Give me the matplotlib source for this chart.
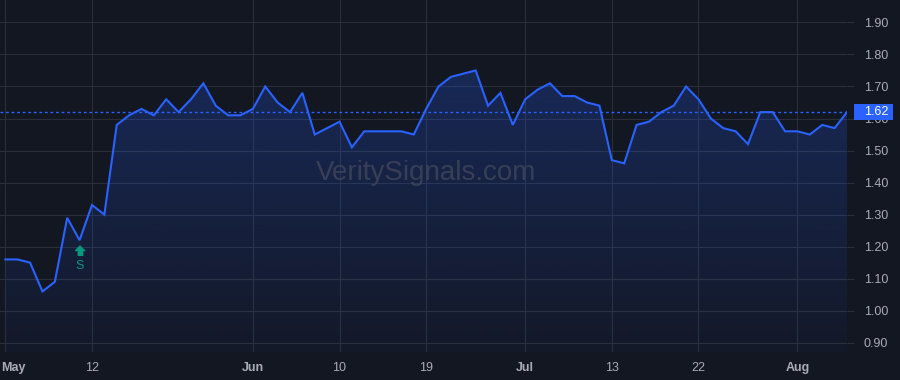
import matplotlib
matplotlib.use("Agg")
import matplotlib.pyplot as plt
import matplotlib.transforms as mtransforms
from matplotlib.patches import Rectangle
import numpy as np

# ---- data ----
values = [1.16, 1.16, 1.15, 1.06, 1.09, 1.29, 1.22, 1.33, 1.30, 1.58,
          1.61, 1.63, 1.61, 1.66, 1.62, 1.66, 1.71, 1.64, 1.61, 1.61,
          1.63, 1.70, 1.65, 1.62, 1.68, 1.55, 1.57, 1.59, 1.51, 1.56,
          1.56, 1.56, 1.56, 1.55, 1.63, 1.70, 1.73, 1.74, 1.75, 1.64,
          1.68, 1.58, 1.66, 1.69, 1.71, 1.67, 1.67, 1.65, 1.64, 1.47,
          1.46, 1.58, 1.59, 1.62, 1.64, 1.70, 1.66, 1.60, 1.57, 1.56,
          1.52, 1.62, 1.62, 1.56, 1.56, 1.55, 1.58, 1.57, 1.62]
tick_bars = [0, 7, 20, 27, 34, 42, 49, 56, 64]
tick_labels = ["May", "12", "Jun", "10", "19", "Jul", "13", "22", "Aug"]
month_labels = {"May", "Jun", "Jul", "Aug"}
y_ticks = [0.90, 1.00, 1.10, 1.20, 1.30, 1.40, 1.50, 1.60, 1.70, 1.80, 1.90]
signal_bar = 6
signal_text = "S"
watermark = "VeritySignals.com"

# ---- style ----
BG = "#131722"
GRID = "#2a2e39"
LINE = "#2962FF"
TXT = "#a9acb5"
SIG = "#089981"

plt.rcParams["font.family"] = ["Liberation Sans", "DejaVu Sans"]

fig = plt.figure(figsize=(9, 3.8), dpi=100, facecolor=BG)
ax = fig.add_axes([0, 28 / 380, 847 / 900, 352 / 380])
ax.set_facecolor(BG)

x = np.arange(len(values))
y = np.array(values)

ax.set_xlim(-0.43, len(values) - 1)
ax.set_ylim(0.871, 1.97)

# gradient area
poly = ax.fill_between(x, y, 0.871, color="none", lw=0)
ylo, yhi = 0.871, max(values)
grad = np.linspace(0, 1, 256)[:, None]
alpha = 0.03 + 0.21 * grad
rgba = np.zeros((256, 1, 4))
rgba[..., 0] = 41 / 255
rgba[..., 1] = 98 / 255
rgba[..., 2] = 255 / 255
rgba[..., 3] = alpha
im = ax.imshow(rgba, aspect="auto", origin="lower",
               extent=[x[0], x[-1], ylo, yhi], zorder=1)
im.set_clip_path(poly.get_paths()[0], transform=ax.transData)
ax.set_xlim(-0.43, len(values) - 1)
ax.set_ylim(0.871, 1.97)

ax.plot(x, y, color=LINE, lw=1.5, zorder=3, solid_joinstyle="miter")

# last price line
last = values[-1]
ax.axhline(last, color=LINE, lw=1.0, ls=(0, (2, 2)), zorder=2)

# grid
ax.set_yticks(y_ticks)
ax.set_yticklabels([f"{v:.2f}" for v in y_ticks])
ax.set_xticks(tick_bars)
ax.set_xticklabels(tick_labels)
ax.grid(True, color=GRID, lw=0.8)
ax.set_axisbelow(True)
for s in ax.spines.values():
    s.set_visible(False)

ax.yaxis.tick_right()
ax.tick_params(axis="y", colors=GRID, length=5, width=0.8, pad=7,
               labelcolor=TXT, labelsize=9)
ax.tick_params(axis="x", length=0, pad=7.5, labelcolor=TXT, labelsize=9)
xlabels = ax.get_xticklabels()
for lbl in xlabels:
    if lbl.get_text() in month_labels:
        lbl.set_fontweight("bold")
# keep the first label inside the picture, as the reference does
xlabels[0].set_horizontalalignment("left")
xlabels[0].set_transform(xlabels[0].get_transform() +
                         mtransforms.ScaledTranslation(-4.6 / 100, 0, fig.dpi_scale_trans))
for lbl in ax.get_yticklabels():
    lbl.set_horizontalalignment("left")

# price label box
trans = mtransforms.blended_transform_factory(ax.transAxes, ax.transData)
box_h = 0.051
ax.add_patch(Rectangle((1.0083, last - box_h / 2), 0.046, box_h,
                       transform=trans, facecolor=LINE, edgecolor="none",
                       clip_on=False, zorder=10))
ax.text(1.0205, last, f"{last:.2f}", transform=trans, color="white",
        fontsize=9, va="center", ha="left", zorder=11, clip_on=False)

# signal marker
arrow = [(0, 1), (-1, 0), (-0.45, 0), (-0.45, -1), (0.45, -1), (0.45, 0), (1, 0)]
ax.plot([signal_bar], [values[signal_bar]], marker=arrow, ms=7, color=SIG,
        ls="none", zorder=5,
        transform=ax.transData + mtransforms.ScaledTranslation(0, -9.5 / 100, fig.dpi_scale_trans))
ax.annotate(signal_text, xy=(signal_bar, values[signal_bar]), xytext=(0, -18.5),
            textcoords="offset points", ha="center", va="center",
            color=SIG, fontsize=9, zorder=5)

# watermark
ax.text(0.503, 0.508, watermark, transform=ax.transAxes, ha="center",
        va="center", fontsize=20, color="#40465a", alpha=0.8, zorder=2)

fig.savefig("out.png", dpi=100, facecolor=BG)
